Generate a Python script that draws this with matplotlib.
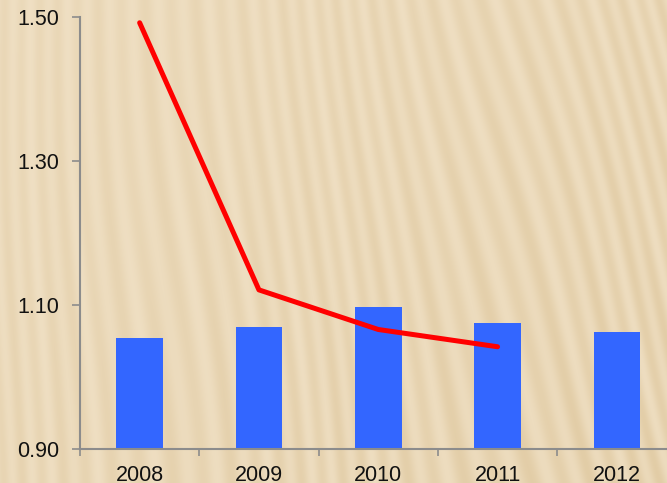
import numpy as np
import matplotlib.pyplot as plt

# yearly values
years = ["2008", "2009", "2010", "2011", "2012"]
bar_values = [1.054, 1.070, 1.097, 1.075, 1.062]
line_years = ["2008", "2009", "2010", "2011"]
line_values = [1.492, 1.121, 1.066, 1.042]

W, H = 667, 483
fig = plt.figure(figsize=(W / 100, H / 100), dpi=100)

# wood-grain style backdrop
bg = fig.add_axes([0, 0, 1, 1])
yy, xx = np.mgrid[0:H, 0:W].astype(float)
slant = 0.03 + 0.25 * (xx / W) ** 1.3
phase = (xx - slant * yy) / 21.0 + 0.5 * np.sin(xx / 53.0) + 0.25 * np.sin(yy / 110.0 + xx / 200.0)
grain = 0.5 + 0.5 * np.sin(phase * 2 * np.pi)
grain2 = 0.5 + 0.5 * np.sin((xx - slant * yy) / 7.5 + 1.3)
shade = 0.45 + 0.35 * (xx / W) + 0.2 * (yy / H)
light = np.array([0.945, 0.885, 0.78])
dark = np.array([0.85, 0.75, 0.57])
mix = np.clip(shade * (0.15 + 0.38 * grain + 0.1 * grain2), 0, 1)[..., None]
img = light * (1 - mix) + dark * mix
bg.imshow(img, aspect="auto", interpolation="bilinear")
bg.axis("off")

# main chart, last category runs past the right edge
left, right = 80 / W, 676.5 / W
bottom, top = 1 - 449 / H, 1 - 17 / H
ax = fig.add_axes([left, bottom, right - left, top - bottom])
ax.patch.set_alpha(0)

x = np.arange(len(years))
ax.bar(x, [v - 0.9 for v in bar_values], bottom=0.9, width=0.39,
       color="#3366FF", zorder=2)
lx = [years.index(y) for y in line_years]
ax.plot(lx, line_values, color="#FF0000", lw=3.6, solid_joinstyle="round",
        solid_capstyle="round", zorder=3)

ax.set_xlim(-0.5, len(years) - 0.5)
ax.set_ylim(0.90, 1.50)
ax.set_yticks([0.90, 1.10, 1.30, 1.50])
ax.set_yticklabels(["0.90", "1.10", "1.30", "1.50"])
ax.set_xticks(x)
ax.set_xticklabels(years)
ax.set_xticks(np.arange(len(years) + 1) - 0.5, minor=True)
ax.tick_params(axis="x", which="major", length=0, pad=11.5)
ax.tick_params(axis="x", which="minor", length=5, width=1.2, color="#8C8C8C")
ax.tick_params(axis="y", length=6, width=1.2, color="#8C8C8C", pad=9)
ax.tick_params(labelsize=15.5, labelcolor="#111111")
for lab in ax.get_xticklabels() + ax.get_yticklabels():
    lab.set_family("Liberation Sans")

for side in ["top", "right"]:
    ax.spines[side].set_visible(False)
for side in ["left", "bottom"]:
    ax.spines[side].set_color("#8C8C8C")
    ax.spines[side].set_linewidth(1.5)

fig.savefig("out.png", dpi=100)
